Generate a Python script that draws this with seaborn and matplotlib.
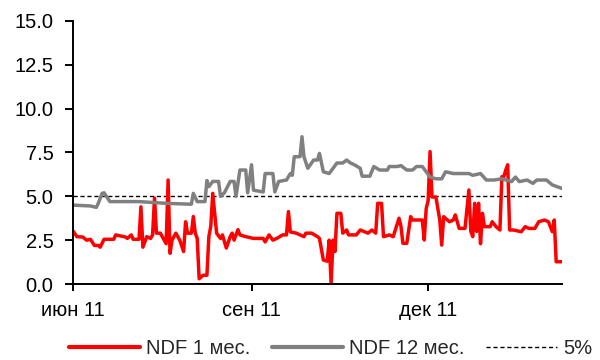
import matplotlib
matplotlib.use("Agg")
import matplotlib.pyplot as plt
import pandas as pd
import seaborn as sns

# NDF 12 мес. (implied yield, %)
ndf12_dates = [
    "2011-06-01", "2011-06-10", "2011-06-13", "2011-06-14", "2011-06-16", "2011-06-17",
    "2011-06-20", "2011-07-05", "2011-07-19", "2011-08-01", "2011-08-02", "2011-08-04",
    "2011-08-08", "2011-08-09", "2011-08-10", "2011-08-12", "2011-08-15", "2011-08-16",
    "2011-08-18", "2011-08-21", "2011-08-23", "2011-08-24", "2011-08-26", "2011-08-29",
    "2011-08-30", "2011-09-01", "2011-09-02", "2011-09-07", "2011-09-08", "2011-09-12",
    "2011-09-13", "2011-09-15", "2011-09-19", "2011-09-21", "2011-09-22", "2011-09-23",
    "2011-09-26", "2011-09-27", "2011-09-28", "2011-09-30", "2011-10-03", "2011-10-05",
    "2011-10-06", "2011-10-08", "2011-10-11", "2011-10-13", "2011-10-15", "2011-10-18",
    "2011-10-20", "2011-10-22", "2011-10-24", "2011-10-27", "2011-10-28", "2011-11-01",
    "2011-11-03", "2011-11-06", "2011-11-10", "2011-11-11", "2011-11-15", "2011-11-17",
    "2011-11-20", "2011-11-23", "2011-11-25", "2011-11-28", "2011-12-02", "2011-12-05",
    "2011-12-08", "2011-12-10", "2011-12-14", "2011-12-22", "2011-12-24", "2011-12-28",
    "2011-12-31", "2012-01-04", "2012-01-08", "2012-01-13", "2012-01-15", "2012-01-17",
    "2012-01-21", "2012-01-24", "2012-01-26", "2012-01-31", "2012-02-03", "2012-02-08",
]
ndf12_values = [
    4.50, 4.45, 4.37, 4.60, 5.17, 5.20,
    4.70, 4.70, 4.60, 4.55, 5.17, 4.70,
    4.70, 5.90, 5.55, 5.85, 5.85, 5.00,
    5.20, 5.85, 5.85, 5.00, 6.50, 6.50,
    5.20, 6.80, 5.35, 5.25, 6.30, 6.30,
    5.25, 5.85, 5.93, 6.30, 6.20, 7.26,
    7.26, 8.40, 7.26, 6.60, 7.07, 7.07,
    7.45, 6.40, 6.30, 6.60, 6.90, 6.90,
    7.07, 6.90, 6.80, 6.60, 6.15, 6.15,
    6.70, 6.50, 6.50, 6.70, 6.70, 6.75,
    6.50, 6.50, 6.70, 6.70, 6.10, 6.00,
    6.00, 6.40, 6.30, 6.30, 6.20, 6.30,
    5.93, 5.93, 6.00, 5.84, 6.10, 5.84,
    5.93, 5.74, 5.93, 5.93, 5.65, 5.45,
]

# NDF 1 мес. (implied yield, %)
ndf1_dates = [
    "2011-06-01", "2011-06-03", "2011-06-06", "2011-06-08", "2011-06-10", "2011-06-12",
    "2011-06-14", "2011-06-15", "2011-06-17", "2011-06-22", "2011-06-23", "2011-06-28",
    "2011-06-29", "2011-07-01", "2011-07-02", "2011-07-05", "2011-07-06", "2011-07-07",
    "2011-07-09", "2011-07-11", "2011-07-12", "2011-07-13", "2011-07-14", "2011-07-16",
    "2011-07-17", "2011-07-19", "2011-07-20", "2011-07-21", "2011-07-22", "2011-07-24",
    "2011-07-26", "2011-07-28", "2011-07-29", "2011-07-30", "2011-08-01", "2011-08-02",
    "2011-08-03", "2011-08-04", "2011-08-05", "2011-08-07", "2011-08-09", "2011-08-10",
    "2011-08-11", "2011-08-12", "2011-08-14", "2011-08-16", "2011-08-17", "2011-08-19",
    "2011-08-21", "2011-08-22", "2011-08-23", "2011-08-25", "2011-08-26", "2011-08-29",
    "2011-09-02", "2011-09-07", "2011-09-08", "2011-09-10", "2011-09-12", "2011-09-14",
    "2011-09-17", "2011-09-19", "2011-09-20", "2011-09-21", "2011-09-24", "2011-09-28",
    "2011-09-29", "2011-10-02", "2011-10-05", "2011-10-06", "2011-10-08", "2011-10-10",
    "2011-10-11", "2011-10-12", "2011-10-13", "2011-10-14", "2011-10-15", "2011-10-17",
    "2011-10-18", "2011-10-20", "2011-10-21", "2011-10-25", "2011-10-27", "2011-10-31",
    "2011-11-02", "2011-11-04", "2011-11-05", "2011-11-07", "2011-11-08", "2011-11-11",
    "2011-11-13", "2011-11-16", "2011-11-17", "2011-11-18", "2011-11-20", "2011-11-22",
    "2011-11-23", "2011-11-28", "2011-11-29", "2011-11-30", "2011-12-01", "2011-12-02",
    "2011-12-03", "2011-12-05", "2011-12-07", "2011-12-08", "2011-12-09", "2011-12-12",
    "2011-12-14", "2011-12-15", "2011-12-17", "2011-12-20", "2011-12-22", "2011-12-23",
    "2011-12-24", "2011-12-25", "2011-12-26", "2011-12-27", "2011-12-28", "2011-12-29",
    "2011-12-30", "2012-01-02", "2012-01-03", "2012-01-05", "2012-01-07", "2012-01-08",
    "2012-01-09", "2012-01-10", "2012-01-11", "2012-01-12", "2012-01-14", "2012-01-18",
    "2012-01-20", "2012-01-22", "2012-01-25", "2012-01-27", "2012-01-30", "2012-02-01",
    "2012-02-02", "2012-02-03", "2012-02-04", "2012-02-05", "2012-02-08",
]
ndf1_values = [
    3.02, 2.70, 2.68, 2.50, 2.55, 2.20,
    2.20, 2.10, 2.55, 2.55, 2.80, 2.68,
    2.60, 2.80, 2.55, 2.55, 4.40, 2.10,
    2.70, 2.60, 2.80, 4.90, 2.90, 2.90,
    2.70, 2.30, 5.93, 1.75, 2.50, 2.90,
    2.50, 1.85, 3.55, 2.90, 2.90, 3.85,
    2.90, 2.60, 0.30, 0.50, 0.50, 2.70,
    3.30, 5.17, 2.90, 2.60, 2.80, 2.05,
    2.70, 2.90, 2.50, 3.10, 2.80, 2.70,
    2.60, 2.60, 2.40, 2.80, 2.50, 2.60,
    2.80, 2.80, 4.13, 2.97, 2.90, 2.70,
    2.90, 2.90, 2.70, 2.60, 1.37, 1.30,
    2.50, 0.04, 2.50, 1.85, 4.03, 4.03,
    2.90, 3.08, 2.80, 2.80, 3.08, 2.90,
    3.08, 2.90, 4.60, 4.60, 2.70, 2.80,
    2.70, 3.75, 3.30, 2.32, 2.32, 3.84,
    3.65, 3.65, 2.51, 4.30, 4.75, 7.55,
    4.96, 4.96, 3.65, 2.22, 3.84, 3.55,
    3.65, 3.94, 3.17, 3.17, 5.36, 3.00,
    2.70, 4.60, 3.00, 4.60, 2.30, 4.03,
    3.27, 3.27, 3.55, 3.27, 3.08, 6.12,
    6.12, 6.50, 6.80, 3.08, 3.08, 2.98,
    3.27, 3.17, 3.17, 3.55, 3.65, 3.55,
    3.27, 2.98, 3.65, 1.27, 1.27,
]

threshold = 5.0
y_ticks = [0, 2.5, 5, 7.5, 10, 12.5, 15]
x_tick_dates = ["2011-06-01", "2011-09-01", "2011-12-01"]
x_tick_labels = ["июн 11", "сен 11", "дек 11"]
series_names = ["NDF 1 мес.", "NDF 12 мес.", "5%"]

sns.set_style("ticks")
plt.rcParams["font.family"] = ["Liberation Sans", "DejaVu Sans"]
plt.rcParams["font.size"] = 14.5

df1 = pd.DataFrame({"date": pd.to_datetime(ndf1_dates), "value": ndf1_values})
df12 = pd.DataFrame({"date": pd.to_datetime(ndf12_dates), "value": ndf12_values})

fig = plt.figure(figsize=(6, 3.6), dpi=100)
ax = fig.add_axes([0.1217, 0.2111, 0.815, 0.7306])

sns.lineplot(data=df1, x="date", y="value", ax=ax, color="#ff0000",
             linewidth=2.5, estimator=None, sort=False, label=series_names[0])
sns.lineplot(data=df12, x="date", y="value", ax=ax, color="#808080",
             linewidth=2.5, estimator=None, sort=False, label=series_names[1])
ax.axhline(threshold, color="black", linewidth=1.0, linestyle=(0, (3, 2)),
           label=series_names[2], zorder=1)

ax.set_xlim(pd.Timestamp("2011-06-01"), pd.Timestamp("2012-02-08"))
ax.set_ylim(0, 15)
ax.set_yticks(y_ticks)
ax.yaxis.set_major_formatter(matplotlib.ticker.FormatStrFormatter("%.1f"))
ax.set_xticks(pd.to_datetime(x_tick_dates))
ax.set_xticklabels(x_tick_labels)
ax.set_xlabel("")
ax.set_ylabel("")

sns.despine(ax=ax)
for side in ("left", "bottom"):
    ax.spines[side].set_linewidth(1.4)
    ax.spines[side].set_color("black")
ax.tick_params(axis="y", length=6, width=1.4, pad=8, colors="black")
ax.tick_params(axis="x", length=5, width=1.4, pad=7, colors="black")

leg = ax.legend(loc="center", bbox_to_anchor=(0.551, 0.031), bbox_transform=fig.transFigure,
                ncol=3, frameon=False, handlelength=3.5, columnspacing=1.1,
                handletextpad=0.3, borderaxespad=0, borderpad=0)
for line in leg.get_lines()[:2]:
    line.set_linewidth(3)

fig.savefig("out.png", dpi=100)
